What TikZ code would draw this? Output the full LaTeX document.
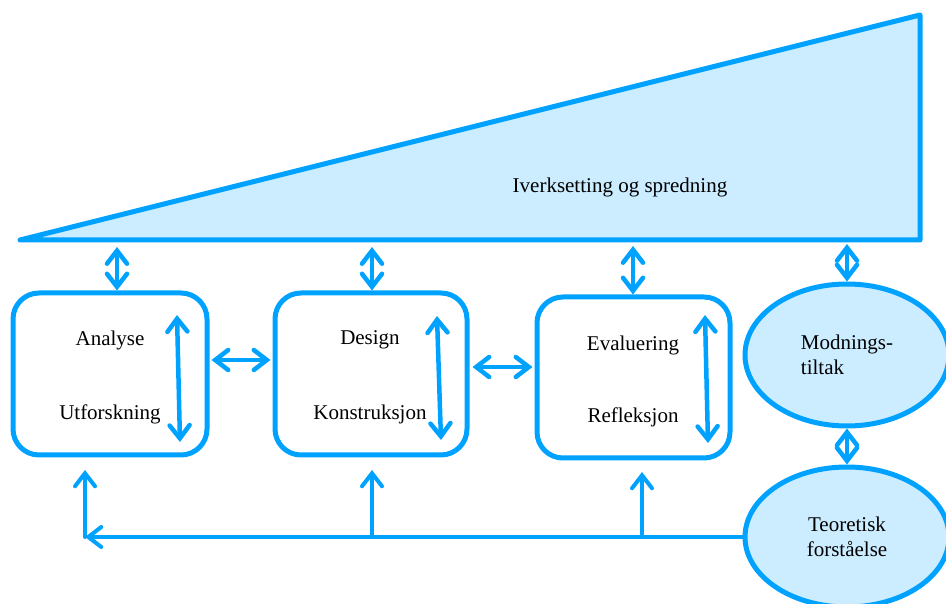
\documentclass[tikz,border=0pt]{standalone}
\usepackage{fontspec}
\setmainfont{Liberation Serif}
\usetikzlibrary{arrows.meta,shapes.geometric,calc}
\definecolor{lineblue}{RGB}{0,162,255}
\definecolor{fillblue}{RGB}{204,236,255}
\begin{document}
\begin{tikzpicture}[x=1pt,y=1pt,
  txt/.style={font=\fontsize{21}{25}\selectfont},
  bx/.style={draw=lineblue,line width=5pt,rounded corners=26pt,minimum width=194pt,minimum height=162pt,inner sep=0pt,fill=white},
  ell/.style={ellipse,draw=lineblue,line width=5pt,fill=fillblue,minimum width=204pt,minimum height=142pt,inner sep=0pt,font=\fontsize{21}{25}\selectfont},
  dbl/.style={draw=lineblue,line width=4.5pt,line cap=round,{Straight Barb[length=13pt,width=20pt,line cap=round]}-{Straight Barb[length=13pt,width=20pt,line cap=round]}},
  arr/.style={draw=lineblue,line width=4pt,line cap=round,-{Straight Barb[length=13pt,width=20pt,line cap=round]}},
  ln/.style={draw=lineblue,line width=4pt}]
\useasboundingbox (0,0) rectangle (946,603);
% triangle
\coordinate (tl) at (20,363);
\coordinate (tr) at (920,588);
\coordinate (br) at (920,363);
\draw[draw=lineblue,fill=fillblue,line width=5pt,line join=round] (tl) -- (tr) -- (br) -- cycle;
\node[txt] (iv) at (620,416) {Iverksetting og spredning};
% boxes
\node[bx] (b1) at (110,229) {};
\node[bx,minimum width=192pt] (b2) at (371,229) {};
\node[bx,minimum width=193pt,minimum height=161pt] (b3) at (633.5,225.5) {};
\node[txt] (t1a) at (110,263) {Analyse};
\node[txt] (t1b) at (110,189) {Utforskning};
\node[txt] (t2a) at (370,263) {Design};
\node[txt] (t2b) at (370,189) {Konstruksjon};
\node[txt] (t3a) at (633,258) {Evaluering};
\node[txt] (t3b) at (633,186) {Refleksjon};
% ellipses
\node[ell,align=left] (e1) at (847,248) {Modnings-\\tiltak};
\node[ell,align=center,minimum height=140pt] (e2) at (847,66) {Teoretisk\\forståelse};
% inner arrows
\coordinate (i1t) at (177,288); \coordinate (i1b) at (180,161);
\coordinate (i2t) at (437,287); \coordinate (i2b) at (441,163);
\coordinate (i3t) at (705,288); \coordinate (i3b) at (708,160);
\draw[dbl] (i1t) -- (i1b);
\draw[dbl] (i2t) -- (i2b);
\draw[dbl] (i3t) -- (i3b);
% horizontal arrows between boxes
\coordinate (h1) at ($(b1.east)+(2,14)$);
\coordinate (h2) at ($(b2.east)+(3,7)$);
\draw[dbl] (h1) -- ($(h1 -| b2.west)+(-2,0)$);
\draw[dbl] (h2) -- ($(h2 -| b3.west)+(-2,0)$);
% vertical arrows from triangle base
\coordinate (v1) at (117,356);
\coordinate (v2) at (372,356);
\coordinate (v3) at (633,357);
\coordinate (v4) at (847,359);
\draw[dbl] (v1) -- (v1 |- b1.north);
\draw[dbl] (v2) -- (v2 |- b2.north);
\draw[dbl] (v3) -- (v3 |- b3.north);
\draw[dbl] (v4) -- (e1.north);
\draw[dbl] (e1.south) -- (e2.north);
% bottom feedback
\coordinate (c0) at (85,66);
\coordinate (u1) at (85,133);
\coordinate (c2) at (372,66);
\coordinate (u2) at (372,133);
\coordinate (c3) at (642,66);
\coordinate (u3) at (642,131);
\draw[arr] (e2.west) -- (c0);
\draw[arr] (c0) -- (u1);
\draw[arr] (c2) -- (u2);
\draw[arr] (c3) -- (u3);
\end{tikzpicture}
\end{document}
